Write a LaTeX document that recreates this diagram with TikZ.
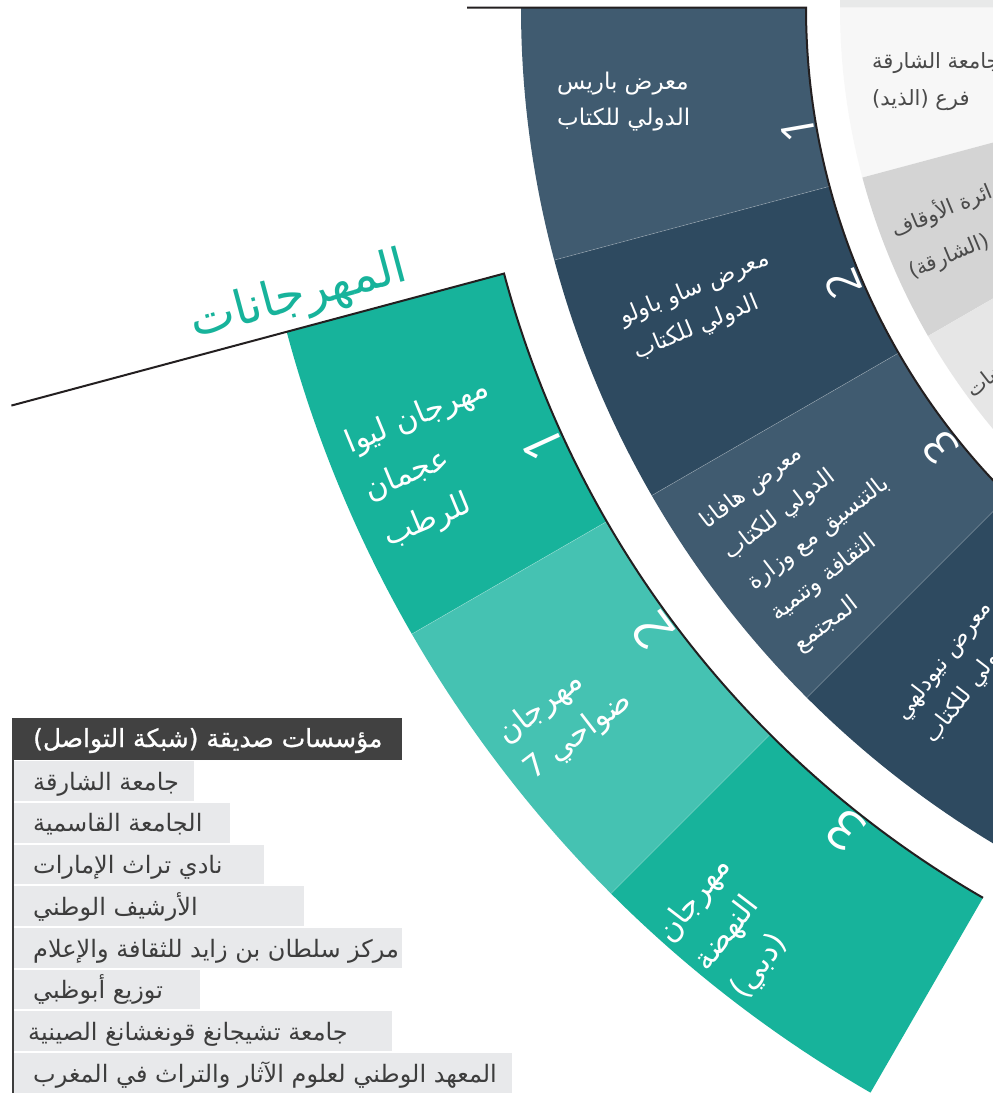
\documentclass[tikz,border=0pt]{standalone}
\usepackage{fontspec}
\usetikzlibrary{calc}
\TeXXeTstate=1
\newfontfamily\arabicfont[Script=Arabic]{DejaVu Sans}
\newfontfamily\arabicbold[Script=Arabic,FakeBold=0.9]{DejaVu Sans}
\newfontfamily\digitfont{Open Sans}
\newcommand\AR[1]{\beginR #1\endR}
\definecolor{slateA}{HTML}{405B70}
\definecolor{slateB}{HTML}{2E4A60}
\definecolor{tealA}{HTML}{17B39B}
\definecolor{tealB}{HTML}{45C2B2}
\definecolor{grayTop}{HTML}{E8E9E9}
\definecolor{grayA}{HTML}{F7F7F7}
\definecolor{grayB}{HTML}{D4D4D4}
\definecolor{grayC}{HTML}{E6E6E6}
\definecolor{grayD}{HTML}{EDEDED}
\definecolor{rowgray}{HTML}{E8E9EB}
\definecolor{headgray}{HTML}{414141}
\definecolor{inkc}{HTML}{231F20}
\definecolor{textgray}{HTML}{3D3D3D}
\definecolor{ringtext}{HTML}{4A4A4A}
\newcommand\ringseg[5]{\fill[#5] ($(C)+(#1:#3pt)$) arc[start angle=#1,end angle=#2,radius=#3pt] -- ($(C)+(#2:#4pt)$) arc[start angle=#2,end angle=#1,radius=#4pt] -- cycle;}
\newcommand\ringsep[3]{\draw[sepline] ($(C)+(#1:#2pt)$) -- ($(C)+(#1:#3pt)$);}
\newcommand\ringdigit[5]{\node[digitnum,font=\digitfont\fontsize{#4}{#4}\selectfont,rotate=#2-90] (#5) at ($(C)+(#2:#3pt)$) {#1};}
\tikzset{
  dtext/.style={inner sep=0pt, anchor=base west, text=white, font=\arabicfont\fontsize{23}{27}\selectfont},
  ttext/.style={inner sep=0pt, anchor=base west, text=white, font=\arabicfont\fontsize{31}{35}\selectfont},
  gtext/.style={inner sep=0pt, anchor=base west, text=ringtext, font=\arabicfont\fontsize{21}{25}\selectfont},
  rowtext/.style={inner sep=0pt, anchor=base west, text=textgray, font=\arabicfont\fontsize{24}{28}\selectfont},
  headtext/.style={inner sep=0pt, anchor=base west, text=white, font=\arabicbold\fontsize{25}{29}\selectfont},
  titletext/.style={inner sep=0pt, anchor=base, text=tealA, font=\arabicfont\fontsize{48}{52}\selectfont},
  digitnum/.style={inner sep=0pt, anchor=base, text=white},
  sepline/.style={draw=white, draw opacity=0.3, line width=0.6pt},
  inkline/.style={draw=inkc, line width=2pt},
}
\begin{document}
\begin{tikzpicture}[x=1pt,y=1pt]
\useasboundingbox (0,0) rectangle (993,-1093);
\clip (0,0) rectangle (993,-1093);
\fill[white] (0,0) rectangle (993,-1093);
\coordinate (C) at (1497,-7.5);
% gray inner ring
\ringseg{165}{180}{300}{657}{grayTop}
\ringseg{180}{195}{300}{657}{grayA}
\ringseg{195}{210}{300}{657}{grayB}
\ringseg{210}{225}{300}{657}{grayC}
\ringseg{225}{240}{300}{657}{grayD}
% dark ring
\ringseg{180}{195}{691}{976}{slateA}
\ringseg{195}{210}{691}{976}{slateB}
\ringseg{210}{225}{691}{976}{slateA}
\ringseg{225}{240}{691}{976}{slateB}
\ringsep{195}{691}{976}
\ringsep{210}{691}{976}
\ringsep{225}{691}{976}
% teal ring
\ringseg{195}{210}{1028}{1253}{tealA}
\ringseg{210}{225}{1028}{1253}{tealB}
\ringseg{225}{240}{1028}{1253}{tealA}
\ringsep{210}{1028}{1253}
\ringsep{225}{1028}{1253}
% black strokes
\draw[inkline] ($(C)+(180:1030pt)$) -- ($(C)+(180:691pt)$) arc[start angle=180,end angle=240,radius=691pt];
\draw[inkline] ($(C)+(195:1538pt)$) -- ($(C)+(195:1028pt)$) arc[start angle=195,end angle=240,radius=1028pt];
% title
\node[titletext, rotate=15] (title) at (302,-309) {\AR{المهرجانات}};
% dark ring labels
\begin{scope}[shift={(557,-89)}, transform shape]
\node[dtext] (d1a) at (0,0) {\AR{معرض باريس}};
\node[dtext] (d1b) at (0,-36) {\AR{الدولي للكتاب}};
\end{scope}
\begin{scope}[shift={(623,-325)}, rotate=22.5, transform shape]
\node[dtext] (d2a) at (0,0) {\AR{معرض ساو باولو}};
\node[dtext] (d2b) at (0,-37) {\AR{الدولي للكتاب}};
\end{scope}
\begin{scope}[shift={(707,-530)}, rotate=37.5, transform shape]
\node[dtext] (d3a) at (0,0) {\AR{معرض هافانا}};
\node[dtext] (d3b) at (0,-38.5) {\AR{الدولي للكتاب}};
\node[dtext] (d3c) at (0,-77) {\AR{بالتنسيق مع وزارة}};
\node[dtext] (d3d) at (0,-115.5) {\AR{الثقافة وتنمية}};
\node[dtext] (d3e) at (0,-154) {\AR{المجتمع}};
\end{scope}
\begin{scope}[shift={(905,-722)}, rotate=52.5, transform shape]
\node[dtext] (d4a) at (0,0) {\AR{معرض نيودلهي}};
\node[dtext] (d4b) at (0,-37) {\AR{الدولي للكتاب}};
\end{scope}
% teal ring labels
\begin{scope}[shift={(350,-454)}, rotate=22.5, transform shape]
\node[ttext] (t1a) at (0,0) {\AR{مهرجان ليوا}};
\node[ttext] (t1b) at (0,-50) {\AR{عجمان}};
\node[ttext] (t1c) at (0,-100) {\AR{للرطب}};
\end{scope}
\begin{scope}[shift={(506,-745)}, rotate=37.5, transform shape]
\node[ttext] (t2a) at (0,0) {\AR{مهرجان}};
\node[ttext] (t2b) at (0,-45) {\AR{ضواحي 7}};
\end{scope}
\begin{scope}[shift={(671,-945)}, rotate=52.5, transform shape]
\node[ttext] (t3a) at (0,0) {\AR{مهرجان}};
\node[ttext] (t3b) at (0,-46) {\AR{النهضة}};
\node[ttext] (t3c) at (0,-92) {\AR{(دبي)}};
\end{scope}
% gray ring labels
\begin{scope}[shift={(872,-68)}, transform shape]
\node[gtext] (g1a) at (0,0) {\AR{جامعة الشارقة}};
\node[gtext] (g1b) at (0,-37) {\AR{فرع (الذيد)}};
\end{scope}
\begin{scope}[shift={(895,-238)}, rotate=22.5, transform shape]
\node[gtext] (g2a) at (0,0) {\AR{دائرة الأوقاف}};
\node[gtext] (g2b) at (0,-44) {\AR{(الشارقة)}};
\end{scope}
\begin{scope}[shift={(973,-399)}, rotate=37.5, transform shape]
\node[gtext] (g3a) at (0,0) {\AR{مكتبات}};
\node[gtext] (g3b) at (0,-40) {\AR{الشارقة العامة}};
\end{scope}
% digits
\ringdigit{1}{189.9}{693}{46}{dn1}
\ringdigit{2}{202.9}{693}{46}{dn2}
\ringdigit{3}{218.3}{693}{46}{dn3}
\ringdigit{1}{204.6}{1030}{54}{tn1}
\ringdigit{2}{216.4}{1030}{54}{tn2}
\ringdigit{3}{231.6}{1030}{54}{tn3}
% partner table
\fill[headgray] (12,-718) rectangle (402,-760);
\node[headtext] (hdr) at (33,-747) {\AR{مؤسسات صديقة (شبكة التواصل)}};
\fill[rowgray] (13,-761) rectangle (194,-800.7);
\node[rowtext] (r1) at (33,-790) {\AR{جامعة الشارقة}};
\fill[rowgray] (13,-802.7) rectangle (230,-842.7);
\node[rowtext] (r2) at (33,-831.7) {\AR{الجامعة القاسمية}};
\fill[rowgray] (13,-844.7) rectangle (264,-884.3);
\node[rowtext] (r3) at (33,-873.7) {\AR{نادي تراث الإمارات}};
\fill[rowgray] (13,-886.3) rectangle (304,-925.7);
\node[rowtext] (r4) at (33,-915.3) {\AR{الأرشيف الوطني}};
\fill[rowgray] (13,-928) rectangle (402,-967.7);
\node[rowtext] (r5) at (33,-957) {\AR{مركز سلطان بن زايد للثقافة والإعلام}};
\fill[rowgray] (13,-969.7) rectangle (200,-1009.3);
\node[rowtext] (r6) at (33,-998.7) {\AR{توزيع أبوظبي}};
\fill[rowgray] (13,-1011.3) rectangle (392,-1051);
\node[rowtext] (r7) at (28,-1040.3) {\AR{جامعة تشيجانغ قونغشانغ الصينية}};
\fill[rowgray] (13,-1053) rectangle (512,-1093);
\node[rowtext] (r8) at (33,-1082) {\AR{المعهد الوطني لعلوم الآثار والتراث في المغرب}};
\draw[draw=textgray, line width=1.5pt] (13.2,-760) -- (13.2,-1093);
\end{tikzpicture}
\end{document}
